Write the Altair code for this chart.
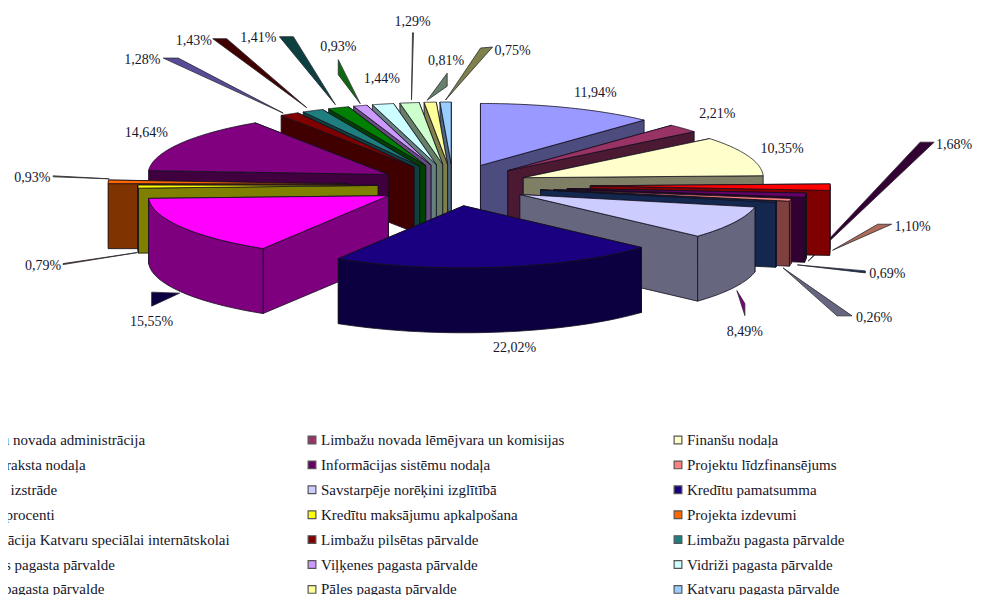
import numpy as np
import pandas as pd
import altair as alt

# ---- chart values
names = ["Limbažu novada administrācija", "Limbažu novada lēmējvara un komisijas", "Finanšu nodaļa",
         "Dzimtsaraksta nodaļa", "Informācijas sistēmu nodaļa", "Projektu līdzfinansējums",
         "Projektu izstrāde", "Savstarpēje norēķini izglītībā", "Kredītu pamatsumma",
         "Kredītu procenti", "Kredītu maksājumu apkalpošana", "Projekta izdevumi",
         "Mērķdotācija Katvaru speciālai internātskolai", "Limbažu pilsētas pārvalde", "Limbažu pagasta pārvalde",
         "Umurgas pagasta pārvalde", "Viļķenes pagasta pārvalde", "Vidriži pagasta pārvalde",
         "Skultes pagasta pārvalde", "Pāles pagasta pārvalde", "Katvaru pagasta pārvalde"]
values = [11.94, 2.21, 10.35, 1.68, 1.10, 0.69, 0.26, 8.49, 22.02, 15.55, 0.79, 0.93,
          14.64, 1.28, 1.43, 1.41, 0.93, 1.44, 1.29, 0.81, 0.75]

# ---- styles
colors = ["#9999FF", "#993366", "#FFFFCC", "#FF0000", "#660066", "#FF8080", "#264F9E", "#CCCCFF",
          "#1A0080", "#FF00FF", "#FFFF00", "#FF6600", "#800080", "#800000", "#1F7F7F", "#008000",
          "#CC99FF", "#CCFFFF", "#CCFFCC", "#FFFF99", "#99CCFF"]
explode = [1, 1, 1, 1.83, 1.53, 1.36, 1.19, 1, 1, 1, 1, 1.40, 1, 1, 1, 1, 1, 1, 1, 1, 1]

# ---- label offsets from the slice's rim midpoint
label_off = [(30, -15), (37, -14), (37, -7), (124, -42), (107, 32), (97, 74), (98, 116), (14, 109),
             (20, 81), (-27, 95), (-92, 79), (-76, -4), (-31, -10), (-144, -54), (-116, -70),
             (-77, -70), (-19, -59), (2, -25), (6, -81), (19, -41), (70, -51)]
# ---- leader wedges (tip, base, base) as offsets from the rim midpoint, with colour
leaders = {
    3: ((-22, 74), (90, -45), (104, -45), "#330033"),
    4: ((27, 55), (72, 29), (86, 29), "#B06A5A"),
    5: ((7, 65), (75, 71), (75, 73), "#1A3060"),
    6: ((7, 66), (61, 114), (76, 114), "#666680"),
    7: ((6, 68), (14, 81), (14, 93), "#800080"),
    9: ((1, 66), (-27, 65), (-27, 79), "#0D0040"),
    10: ((2, 66), (-72, 77), (-72, 78), "#803030"),
    11: ((1, -3), (-55, -6), (-55, -5), "#666640"),
    13: ((-3, -1), (-123, -56), (-108, -56), "#5A4A9A"),
    14: ((-3, -3), (-97, -72), (-83, -72), "#400000"),
    15: ((0, -3), (-56, -71), (-42, -71), "#0C4040"),
    16: ((3, -2), (-19, -46), (-19, -31), "#0F6A0F"),
    18: ((5, -3), (6, -70), (7, -70), "#668066"),
    19: ((0, -2), (20, -29), (20, -16), "#66806A"),
    20: ((3, -2), (38, -54), (50, -55), "#80804C"),
}

# ---- pie geometry
CX, CY, RX, RY, EX, EY, H = 453, 185, 240, 62, 75, 21, 65
ANCHOR_SHIFT = 3
total = sum(values)
edges = np.concatenate([[0], np.cumsum(values)]) / total * 360


def half(c):
    return "#%02X%02X%02X" % tuple(int(c[i:i + 2], 16) // 2 for i in (1, 3, 5))


def apex(i):
    m = np.radians((edges[i] + edges[i + 1]) / 2)
    return (CX + EX * explode[i] * np.sin(m), CY - EY * explode[i] * np.cos(m))


def rim(i, deg):
    a = apex(i)
    t = np.radians(deg)
    return (a[0] + RX * np.sin(t), a[1] - RY * np.cos(t))


def anchor(i):
    mx, my = rim(i, (edges[i] + edges[i + 1]) / 2)
    return (mx - (ANCHOR_SHIFT if explode[i] == 1 else 0), my)


rows = []
pid = 0


def add_poly(pts, fill, stroke="#14101E"):
    global pid
    pts = list(pts) + [pts[0]]
    for k, (x, y) in enumerate(pts):
        rows.append({"x": float(x), "y": float(y), "k": k, "pid": f"{pid:04d}", "fill": fill, "st": stroke})
    pid += 1


# leaders go underneath the pie
for i, (tip, b1, b2, col) in leaders.items():
    mx, my = anchor(i)
    add_poly([(mx + p[0], my + p[1]) for p in (tip, b1, b2)], col, "#2A2A30")

# painter's order: back to front
order = list(range(0, 8)) + list(range(20, 8, -1)) + [8]
for i in order:
    c = colors[i]
    s = half(c)
    a = apex(i)
    t0, t1 = edges[i], edges[i + 1]
    faces = sorted([t0, t1], key=lambda d: rim(i, d)[1])
    for d in faces:
        p = rim(i, d)
        add_poly([a, p, (p[0], p[1] + H), (a[0], a[1] + H)], s)
    w0, w1 = max(t0, 90), min(t1, 270)
    if w1 > w0:
        ts = np.linspace(w0, w1, 40)
        top = [rim(i, d) for d in ts]
        add_poly(top + [(x, y + H) for x, y in reversed(top)], s)
    ts = np.linspace(t0, t1, 60)
    add_poly([a] + [rim(i, d) for d in ts], c)

polys = pd.DataFrame(rows)

# percent labels
lab = []
for i, v in enumerate(values):
    mx, my = anchor(i)
    lab.append({"x": mx + label_off[i][0], "y": my + label_off[i][1],
                "t": f"{v:.2f}".replace(".", ",") + "%"})
labels = pd.DataFrame(lab)

# legend grid: three columns, filled row by row
LEG_TX = [-44, 321, 687]
leg = []
for i, n in enumerate(names):
    r, c = divmod(i, 3)
    leg.append({"x": LEG_TX[c], "sx": LEG_TX[c] - 9, "y": 440 + 24.9 * r, "t": n, "fill": colors[i]})
legend = pd.DataFrame(leg)

W, HT = 966, 587
xs = alt.Scale(domain=[8, 974], range=[0, W])
ys = alt.Scale(domain=[8, 595], range=[0, HT])
X = alt.X("x:Q", scale=xs, axis=None)
Y = alt.Y("y:Q", scale=ys, axis=None)

pie = alt.Chart(polys).mark_line(strokeWidth=0.8, strokeJoin="round").encode(
    x=X, y=Y, order="k:Q", detail="pid:N",
    fill=alt.Fill("fill:N", scale=None),
    stroke=alt.Stroke("st:N", scale=None),
)
pct = alt.Chart(labels).mark_text(font="Liberation Serif", fontSize=14, color="#16162A",
                                  align="center", baseline="middle").encode(x=X, y=Y, text="t:N")
swatch = alt.Chart(legend).mark_square(size=60, stroke="#555555", strokeWidth=1.2, opacity=1).encode(
    x=alt.X("sx:Q", scale=xs, axis=None), y=Y, fill=alt.Fill("fill:N", scale=None))
legtxt = alt.Chart(legend).mark_text(font="Liberation Serif", fontSize=15, color="#16162A",
                                     align="left", baseline="middle").encode(x=X, y=Y, text="t:N")

chart = alt.layer(pie, pct, swatch, legtxt).properties(
    width=W, height=HT, padding=0, autosize=alt.AutoSizeParams(type="none"), background="white"
).configure_view(stroke=None)

chart.save("out.html", embed_options={"renderer": "svg", "actions": False})
